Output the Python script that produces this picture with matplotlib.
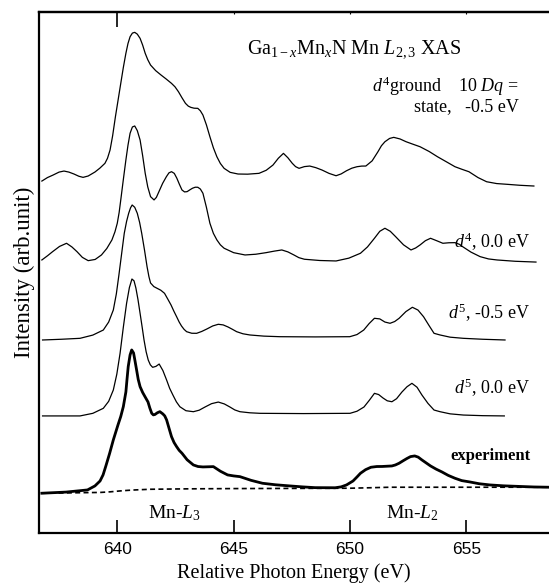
import matplotlib.pyplot as plt
import numpy as np

plt.rcParams['font.family'] = 'serif'
plt.rcParams['font.serif'] = ['Liberation Serif', 'DejaVu Serif']
plt.rcParams['mathtext.fontset'] = 'custom'
plt.rcParams['mathtext.rm'] = 'Liberation Serif'
plt.rcParams['mathtext.it'] = 'Liberation Serif:italic'
plt.rcParams['mathtext.bf'] = 'Liberation Serif:bold'

# Mn L2,3 XAS spectra: photon energy (eV) and intensity above each curve's baseline (arb. units)
e_d4_gs = [636.76, 637.0, 637.24, 637.5, 637.71, 637.92, 638.14, 638.35, 638.53, 638.75,
           639.04, 639.25, 639.47, 639.58, 639.69, 639.8, 639.92, 640.04, 640.15, 640.26,
           640.37, 640.46, 640.55, 640.65, 640.75, 640.86, 640.98, 641.09, 641.20, 641.31,
           641.43, 641.65, 641.88, 642.1, 642.33, 642.48, 642.63, 642.78, 642.93, 643.05,
           643.16, 643.3, 643.46, 643.57, 643.68, 643.83, 643.98, 644.13, 644.28, 644.43,
           644.59, 644.85, 645.19, 645.6, 646.09, 646.4, 646.69, 646.92, 647.14, 647.33,
           647.52, 647.66, 647.81, 648.04, 648.27, 648.53, 648.80, 649.1, 649.40, 649.62,
           649.85, 650.08, 650.30, 650.5, 650.68, 650.95, 651.20, 651.35, 651.50, 651.7,
           651.88, 652.15, 652.41, 652.7, 653.01, 653.4, 653.76, 654.15, 654.51, 654.8,
           655.11, 655.5, 655.87, 656.3, 656.77, 657.3, 657.90]
i_d4_gs = [1.53, 2.2, 2.68, 3.25, 3.45, 3.25, 2.88, 2.45, 2.24, 2.5,
           3.26, 4.0, 4.93, 5.9, 7.48, 10.2, 13.86, 17.2, 20.26, 23.3,
           26.02, 27.9, 29.20, 29.9, 30.04, 29.7, 28.89, 27.6, 26.02, 24.8,
           23.77, 22.7, 21.86, 21.1, 20.26, 19.6, 18.65, 17.5, 16.43, 15.9,
           15.66, 15.5, 15.47, 15.0, 14.19, 12.3, 10.03, 7.9, 6.19, 4.9,
           3.97, 3.2, 2.88, 2.85, 3.01, 3.6, 4.60, 5.9, 6.84, 6.0,
           4.93, 4.3, 3.97, 4.3, 4.41, 4.1, 3.64, 3.0, 2.55, 2.9,
           3.51, 4.0, 4.28, 4.4, 4.41, 5.4, 7.15, 8.3, 9.07, 9.7,
           9.91, 9.6, 9.07, 8.6, 8.11, 7.2, 6.19, 5.2, 4.28, 3.8,
           3.32, 2.2, 1.40, 1.05, 0.90, 0.72, 0.58]

e_d4_00 = [636.76, 637.0, 637.22, 637.52, 637.82, 638.05, 638.27, 638.5, 638.75, 639.05,
           639.32, 639.55, 639.77, 639.9, 640.00, 640.08, 640.15, 640.26, 640.37, 640.46,
           640.55, 640.65, 640.75, 640.86, 640.98, 641.09, 641.20, 641.31, 641.43, 641.58,
           641.68, 641.79, 641.95, 642.11, 642.22, 642.33, 642.45, 642.56, 642.67, 642.78,
           642.89, 643.00, 643.12, 643.23, 643.35, 643.46, 643.57, 643.68, 643.83, 643.98,
           644.13, 644.28, 644.43, 644.59, 645.0, 645.49, 645.95, 646.39, 646.75, 647.07,
           647.33, 647.59, 647.8, 648.04, 648.7, 649.40, 649.95, 650.45, 650.75, 651.05,
           651.28, 651.50, 651.73, 651.96, 652.3, 652.62, 652.82, 653.01, 653.24, 653.46,
           653.72, 653.99, 654.25, 654.51, 654.7, 654.86, 655.2, 655.59, 655.95, 656.32,
           657.1, 657.99]
i_d4_00 = [0.40, 1.2, 1.99, 3.0, 3.60, 2.9, 1.99, 0.9, 0.27, 0.5,
           1.36, 2.6, 4.24, 5.8, 7.44, 9.5, 11.91, 15.8, 19.57, 22.4,
           24.69, 25.9, 26.09, 25.2, 23.41, 20.4, 17.02, 14.4, 12.54, 11.91,
           12.4, 13.50, 15.1, 16.37, 17.1, 17.33, 17.0, 16.07, 14.9, 13.82,
           13.45, 13.50, 13.85, 14.15, 14.35, 14.34, 14.0, 13.19, 10.5, 7.44,
           5.5, 4.24, 3.3, 2.65, 1.8, 1.36, 1.5, 1.80, 2.1, 2.32,
           1.95, 1.36, 0.85, 0.54, 0.3, 0.21, 0.75, 1.69, 2.9, 4.56,
           5.9, 6.48, 5.9, 4.87, 3.3, 2.32, 2.7, 3.28, 4.1, 4.56,
           4.1, 3.60, 3.7, 3.72, 3.4, 2.89, 1.9, 1.04, 0.6, 0.40,
           0.15, 0.0]

e_d5_m05 = [636.79, 637.6, 638.40, 638.95, 639.40, 639.63, 639.83, 639.96, 640.07, 640.19,
            640.30, 640.4, 640.49, 640.57, 640.64, 640.75, 640.86, 640.96, 641.05, 641.17,
            641.28, 641.36, 641.43, 641.57, 641.71, 641.87, 642.03, 642.17, 642.31, 642.43,
            642.55, 642.66, 642.76, 642.87, 642.98, 643.2, 643.41, 643.63, 643.85, 644.1,
            644.34, 644.55, 644.76, 644.95, 645.13, 645.4, 645.70, 646.3, 646.99, 648.5,
            649.99, 650.3, 650.59, 650.82, 651.05, 651.28, 651.5, 651.72, 651.92, 652.11,
            652.4, 652.68, 652.92, 653.16, 653.4, 653.61, 653.87, 654.3, 654.87, 655.7,
            656.66]
i_d5_m05 = [0.06, 0.2, 0.38, 1.0, 1.97, 3.5, 5.81, 8.9, 12.52, 16.7,
            20.51, 22.8, 24.35, 25.4, 25.94, 25.5, 24.35, 22.6, 20.51, 17.3,
            14.11, 12.2, 10.99, 10.3, 9.97, 9.6, 9.01, 7.9, 6.77, 5.6,
            4.52, 3.5, 2.74, 2.1, 1.65, 1.35, 1.34, 1.7, 2.17, 2.75,
            3.07, 2.95, 2.55, 2.1, 1.65, 1.25, 1.02, 0.8, 0.69, 0.65,
            0.69, 1.1, 1.97, 3.2, 4.22, 4.1, 3.5, 3.26, 3.6, 4.22,
            5.5, 6.33, 5.8, 4.52, 2.8, 1.34, 1.02, 0.6, 0.38, 0.2,
            0.06]

e_d5_00 = [636.79, 638.40, 638.95, 639.40, 639.63, 639.83, 639.98, 640.12, 640.26, 640.40,
           640.52, 640.63, 640.72, 640.80, 640.89, 640.98, 641.07, 641.15, 641.24, 641.33,
           641.42, 641.52, 641.66, 641.80, 641.96, 642.12, 642.25, 642.39, 642.54, 642.69,
           642.95, 643.27, 643.52, 643.77, 644.05, 644.34, 644.6, 644.84, 645.05, 645.27,
           645.7, 646.13, 648.0, 650.00, 650.3, 650.60, 650.83, 651.05, 651.23, 651.42,
           651.6, 651.80, 652.0, 652.23, 652.45, 652.66, 652.88, 653.09, 653.35, 653.61,
           653.87, 654.3, 654.87, 655.7, 656.63]
i_d5_00 = [0.0, 0.0, 0.5, 1.46, 2.8, 4.97, 8.0, 12.00, 17.0, 21.59,
           24.6, 26.25, 25.9, 24.52, 22.3, 19.67, 17.0, 14.55, 12.3, 10.72,
           9.8, 9.32, 9.5, 9.95, 8.7, 6.88, 5.3, 4.01, 2.7, 1.76,
           1.0, 0.81, 1.1, 1.71, 2.35, 2.66, 2.3, 1.71, 1.15, 0.81,
           0.6, 0.50, 0.45, 0.50, 0.9, 1.71, 3.0, 4.33, 4.1, 3.43,
           2.9, 2.72, 3.3, 4.58, 5.6, 6.25, 5.5, 4.01, 2.4, 1.13,
           0.81, 0.4, 0.17, 0.05, 0.0]

e_exp = [636.76, 637.8, 638.72, 639.04, 639.26, 639.39, 639.51, 639.67, 639.83, 640.03,
         640.15, 640.26, 640.37, 640.42, 640.47, 640.55, 640.62, 640.70, 640.76, 640.83,
         640.9, 640.98, 641.09, 641.19, 641.32, 641.4, 641.48, 641.55, 641.62, 641.72,
         641.83, 641.96, 642.04, 642.12, 642.22, 642.33, 642.44, 642.55, 642.66, 642.78,
         643.0, 643.27, 643.47, 643.68, 643.9, 644.13, 644.43, 644.74, 645.0, 645.27,
         645.75, 646.24, 646.8, 647.42, 647.95, 648.50, 649.36, 649.62, 649.85, 650.13,
         650.3, 650.45, 650.67, 650.90, 651.15, 651.38, 651.80, 651.95, 652.11, 652.28,
         652.45, 652.6, 652.78, 652.93, 653.09, 653.27, 653.46, 653.7, 653.95, 654.22,
         654.51, 654.8, 655.15, 655.55, 656.01, 656.6, 657.30, 657.9, 658.55]
i_exp = [0.08, 0.3, 0.71, 1.48, 2.43, 3.6, 5.31, 7.7, 10.30, 13.17,
         14.8, 16.68, 19.50, 22.0, 24.35, 26.59, 27.55, 26.97, 25.5, 23.72,
         21.9, 20.51, 19.4, 18.60, 17.58, 16.4, 15.41, 15.1, 15.18, 15.5,
         15.72, 15.28, 14.9, 14.13, 12.6, 10.93, 9.8, 9.01, 8.3, 7.75,
         6.5, 5.50, 5.2, 5.12, 5.15, 5.18, 4.3, 3.59, 3.4, 3.26,
         2.55, 1.99, 1.7, 1.48, 1.3, 1.15, 1.13, 1.3, 1.67, 2.43,
         3.2, 3.91, 4.6, 5.06, 5.2, 5.21, 5.31, 5.5, 5.83, 6.3,
         6.75, 7.1, 7.23, 7.0, 6.46, 5.9, 5.31, 4.7, 4.16, 3.5,
         2.95, 2.5, 2.24, 1.9, 1.67, 1.5, 1.38, 1.28, 1.23]

# step-like background under the experimental spectrum
e_bg = [636.76, 638.0, 638.57, 639.26, 639.7, 640.12, 640.45, 640.76, 641.41, 643.0,
        645.0, 650.00, 650.86, 651.72, 658.55]
i_bg = [0.08, 0.15, 0.19, 0.23, 0.35, 0.52, 0.63, 0.71, 0.84, 0.92,
        0.97, 1.04, 1.13, 1.23, 1.23]

# vertical offsets of the stacked spectra
offsets = {'d4_gs': 66.0, 'd4_00': 52.0, 'd5_m05': 37.0, 'd5_00': 22.5, 'exp': 7.6}

fig = plt.figure(figsize=(5.49, 5.85), dpi=100)
ax = fig.add_axes([0.0716, 0.0884, 0.9284, 0.8916])

thin = dict(color='black', lw=0.9)
ax.plot(e_d4_gs, np.array(i_d4_gs) + offsets['d4_gs'], **thin)
ax.plot(e_d4_00, np.array(i_d4_00) + offsets['d4_00'], **thin)
ax.plot(e_d5_m05, np.array(i_d5_m05) + offsets['d5_m05'], **thin)
ax.plot(e_d5_00, np.array(i_d5_00) + offsets['d5_00'], **thin)
ax.plot(e_exp, np.array(i_exp) + offsets['exp'], color='black', lw=2.0)
ax.plot(e_bg, np.array(i_bg) + offsets['exp'], color='black', lw=1.2, linestyle=(0, (3, 2)))

ax.set_xlim(636.65, 658.55)
ax.set_ylim(0, 100)
ax.set_yticks([])
ax.set_xticks([640, 645, 650, 655])
ax.tick_params(axis='x', which='major', direction='in', length=9.5, width=1.2,
               labelsize=12.5, pad=6)
for lbl in ax.get_xticklabels():
    lbl.set_fontfamily('Liberation Sans')

for side in ['left', 'top', 'bottom']:
    ax.spines[side].set_linewidth(1.6)
ax.spines['right'].set_visible(False)

top = ax.secondary_xaxis('top')
top.set_xticks([640])
top.set_xticks([645, 650, 655], minor=True)
top.tick_params(which='major', direction='in', length=11, width=1.2, labeltop=False)
top.tick_params(which='minor', direction='in', length=1.5, width=0.8)
top.spines['top'].set_linewidth(1.6)

ax.set_xlabel('Relative Photon Energy (eV)', fontsize=14.5, labelpad=5)
ax.set_ylabel('Intensity (arb.unit)', fontsize=16.5, labelpad=3)

ax.text(645.57, 91.99, r'Ga$_{\mathrm{1-}x}$Mn$_x$N Mn $L_{2,3}$ XAS', fontsize=14.5,
        ha='left', va='baseline')
ax.text(657.25, 84.6, r'$d^4$ground    10 $Dq$ =', fontsize=13, ha='right', va='baseline')
ax.text(657.25, 81.0, 'state,   -0.5 eV', fontsize=13, ha='right', va='baseline')
ax.text(657.74, 54.64, r'$d^4$, 0.0 eV', fontsize=13, ha='right', va='baseline')
ax.text(657.74, 41.09, r'$d^5$, -0.5 eV', fontsize=13, ha='right', va='baseline')
ax.text(657.74, 26.65, r'$d^5$, 0.0 eV', fontsize=13, ha='right', va='baseline')
ax.text(657.74, 14.05, 'experiment', fontsize=12, fontweight='bold', ha='right', va='baseline')
ax.text(642.46, 2.88, r'Mn-$L_3$', fontsize=14, ha='center', va='baseline')
ax.text(652.69, 2.88, r'Mn-$L_2$', fontsize=14, ha='center', va='baseline')

fig.savefig('out.png', dpi=100)
